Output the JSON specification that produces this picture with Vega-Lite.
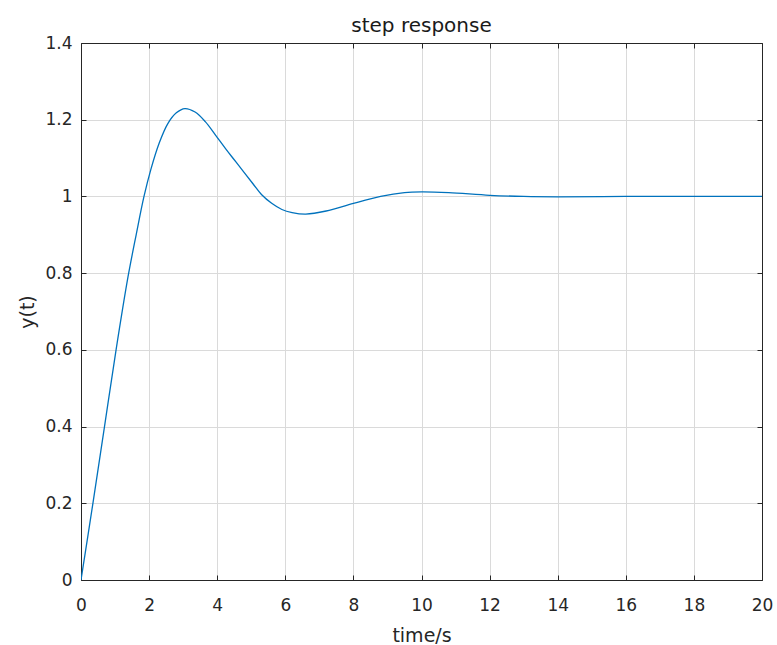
{
  "$schema": "https://vega.github.io/schema/vega-lite/v6.json",
  "autosize": "none",
  "padding": {"left": 81, "top": 43, "right": 15, "bottom": 65},
  "width": 681,
  "height": 537,
  "background": "white",
  "title": {
    "text": "step response",
    "font": "DejaVu Sans",
    "fontSize": 20,
    "fontWeight": "normal",
    "color": "#1a1a1a",
    "baseline": "alphabetic",
    "offset": -18,
    "anchor": "middle"
  },
  "config": {
    "view": {"stroke": null},
    "axis": {
      "labelFont": "DejaVu Sans",
      "labelFontSize": 17,
      "labelColor": "#262626",
      "labelFlush": false,
      "titleFont": "DejaVu Sans",
      "titleFontSize": 19,
      "titleFontWeight": "normal",
      "titleColor": "#262626",
      "domainColor": "#262626",
      "domainWidth": 1,
      "tickColor": "#262626",
      "tickWidth": 1,
      "tickSize": -5,
      "gridColor": "#dadada",
      "gridWidth": 1
    }
  },
  "data": {
    "values": [
      {"t": 0, "y": 0},
      {"t": 0.35, "y": 0.2},
      {"t": 0.69, "y": 0.4},
      {"t": 1.03, "y": 0.6},
      {"t": 1.38, "y": 0.79},
      {"t": 1.62, "y": 0.9},
      {"t": 1.85, "y": 1.0},
      {"t": 2.05, "y": 1.07},
      {"t": 2.3, "y": 1.14},
      {"t": 2.55, "y": 1.19},
      {"t": 2.8, "y": 1.218},
      {"t": 3.05, "y": 1.229},
      {"t": 3.35, "y": 1.22},
      {"t": 3.65, "y": 1.195},
      {"t": 3.95, "y": 1.16},
      {"t": 4.25, "y": 1.124},
      {"t": 4.55, "y": 1.09},
      {"t": 5.05, "y": 1.033},
      {"t": 5.3, "y": 1.005},
      {"t": 5.6, "y": 0.982},
      {"t": 5.9, "y": 0.966},
      {"t": 6.2, "y": 0.958},
      {"t": 6.6, "y": 0.954},
      {"t": 7.2, "y": 0.962},
      {"t": 8.0, "y": 0.982},
      {"t": 8.8, "y": 1.0},
      {"t": 9.5, "y": 1.01},
      {"t": 10.0, "y": 1.012},
      {"t": 10.8, "y": 1.01},
      {"t": 12.0, "y": 1.003},
      {"t": 13.0, "y": 1.0},
      {"t": 14.0, "y": 0.999},
      {"t": 16.0, "y": 1.0},
      {"t": 18.0, "y": 1.0},
      {"t": 20.0, "y": 1.0}
    ]
  },
  "layer": [
    {
      "mark": {"type": "line", "color": "#0072BD", "strokeWidth": 1.3, "interpolate": "catmull-rom", "clip": true},
      "encoding": {
        "x": {
          "field": "t", "type": "quantitative",
          "scale": {"domain": [0, 20], "nice": false, "zero": false},
          "axis": {
            "title": "time/s",
            "values": [0, 2, 4, 6, 8, 10, 12, 14, 16, 18, 20],
            "format": "~g",
            "grid": true,
            "labelPadding": 22,
            "titleBaseline": "alphabetic",
            "titleY": 61
          }
        },
        "y": {
          "field": "y", "type": "quantitative",
          "scale": {"domain": [0, 1.4], "nice": false},
          "axis": {
            "title": "y(t)",
            "values": [0, 0.2, 0.4, 0.6, 0.8, 1, 1.2, 1.4],
            "format": "~g",
            "grid": true,
            "labelPadding": 14,
            "titleBaseline": "alphabetic",
            "titleX": -48
          }
        }
      }
    },
    {
      "mark": {"type": "line", "strokeOpacity": 0},
      "encoding": {
        "x": {
          "field": "t", "type": "quantitative",
          "axis": {"orient": "top", "title": null, "labels": false, "grid": false,
                   "values": [0, 2, 4, 6, 8, 10, 12, 14, 16, 18, 20]}
        },
        "y": {
          "field": "y", "type": "quantitative",
          "axis": {"orient": "right", "title": null, "labels": false, "grid": false,
                   "values": [0, 0.2, 0.4, 0.6, 0.8, 1, 1.2, 1.4]}
        }
      }
    }
  ],
  "resolve": {"axis": {"x": "independent", "y": "independent"}}
}
